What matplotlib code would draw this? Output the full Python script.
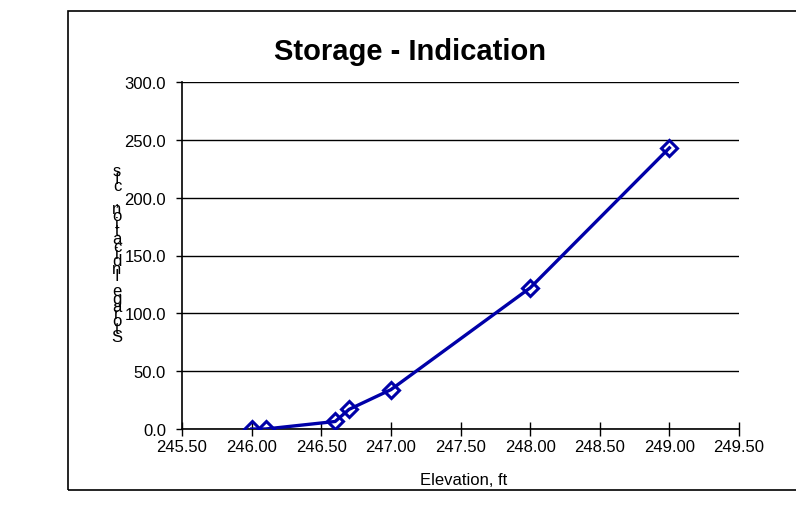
import matplotlib
matplotlib.use("Agg")
import matplotlib.pyplot as plt
from matplotlib.patches import Rectangle

plt.rcParams['font.family'] = ['Liberation Sans', 'DejaVu Sans']

elevation = [246.0, 246.1, 246.6, 246.7, 247.0, 248.0, 249.0]
storage_ind = [0.0, 0.0, 6.5, 17.0, 34.0, 122.0, 243.0]
y_label = "Storage Indication, cfs"

W, H = 796, 506
fig = plt.figure(figsize=(W / 100, H / 100), dpi=100)

# chart frame
fig.patches.append(Rectangle((68 / W, 1 - 491 / H), (W + 5 - 68) / W, (491 - 12) / H,
                             transform=fig.transFigure, fill=False, ec='black', lw=1.2))

ax = fig.add_axes([182 / W, 1 - 430 / H, (739 - 182) / W, (430 - 83) / H])
ax.plot(elevation, storage_ind, color='#0000A8', lw=2.4, marker='D', ms=8,
        mfc='none', mec='#0000A8', mew=2.2, zorder=3)

ax.set_xlim(245.5, 249.5)
ax.set_ylim(0, 300)
ax.set_xticks([245.5 + 0.5 * i for i in range(9)])
ax.set_yticks([50 * i for i in range(7)])
ax.set_xticklabels([f"{v:.2f}" for v in ax.get_xticks()], fontsize=12)
ax.set_yticklabels([f"{v:.1f}" for v in ax.get_yticks()], fontsize=12)
ax.tick_params(axis='x', direction='inout', length=10, width=1, pad=2)
ax.tick_params(axis='y', direction='out', length=4, width=1, pad=7.5)
ax.grid(axis='y', color='black', lw=1)
ax.set_axisbelow(True)
for s in ['top', 'right']:
    ax.spines[s].set_visible(False)
for s in ['left', 'bottom']:
    ax.spines[s].set_linewidth(1.2)

fig.text(410 / W, 1 - 52 / H, "Storage - Indication", ha='center', va='center',
         fontsize=21, fontweight='bold')
fig.text(464 / W, 1 - 481 / H, "Elevation, ft", ha='center', va='center', fontsize=12)

# axis title drawn as squashed vertical stack of upright letters
chars = list(reversed(y_label))
top, bottom = 172, 337
step = (bottom - top) / (len(chars) - 1)
for i, ch in enumerate(chars):
    fig.text(117 / W, 1 - (top + i * step) / H, ch, ha='center', va='center', fontsize=12)

fig.savefig("out.png", dpi=100)
